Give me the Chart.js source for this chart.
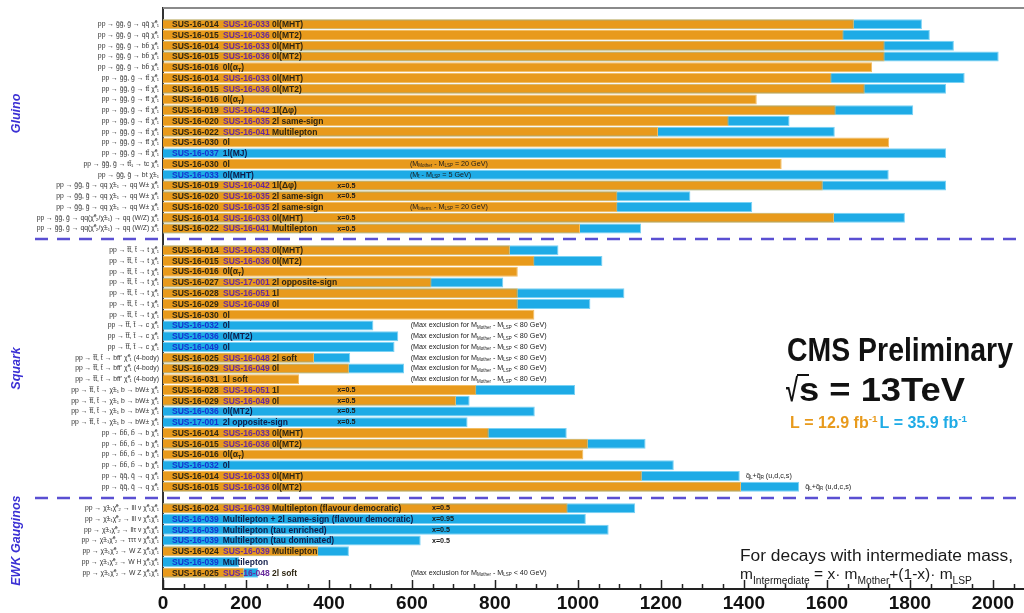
<!DOCTYPE html>
<html>
<head>
<meta charset="utf-8">
<script src="https://cdn.jsdelivr.net/npm/chart.js@4.4.1/dist/chart.umd.min.js"></script>
<style>
html, body { margin: 0; padding: 0; background: #fff; }
#wrap { width: 1024px; height: 613px; }
</style>
</head>
<body>
<div id="wrap"><canvas id="summaryChart" width="1024" height="613"></canvas></div>
<script>
// ---- data (mass limits in GeV) ----
const gluinoDecays = [
    'pp → g̃g̃, g̃ → qq̄ χ̃⁰₁', 'pp → g̃g̃, g̃ → qq̄ χ̃⁰₁',
    'pp → g̃g̃, g̃ → bb̄ χ̃⁰₁', 'pp → g̃g̃, g̃ → bb̄ χ̃⁰₁', 'pp → g̃g̃, g̃ → bb̄ χ̃⁰₁',
    'pp → g̃g̃, g̃ → tt̄ χ̃⁰₁', 'pp → g̃g̃, g̃ → tt̄ χ̃⁰₁', 'pp → g̃g̃, g̃ → tt̄ χ̃⁰₁',
    'pp → g̃g̃, g̃ → tt̄ χ̃⁰₁', 'pp → g̃g̃, g̃ → tt̄ χ̃⁰₁', 'pp → g̃g̃, g̃ → tt̄ χ̃⁰₁',
    'pp → g̃g̃, g̃ → tt̄ χ̃⁰₁', 'pp → g̃g̃, g̃ → tt̄ χ̃⁰₁',
    'pp → g̃g̃, g̃ → tt̃₁ → tc χ̃⁰₁', 'pp → g̃g̃, g̃ → bt χ̃±₁',
    'pp → g̃g̃, g̃ → qq χ̃±₁ → qq W± χ̃⁰₁', 'pp → g̃g̃, g̃ → qq χ̃±₁ → qq W± χ̃⁰₁',
    'pp → g̃g̃, g̃ → qq χ̃±₁ → qq W± χ̃⁰₁',
    'pp → g̃g̃, g̃ → qq(χ̃⁰₂/χ̃±₁) → qq (W/Z) χ̃⁰₁', 'pp → g̃g̃, g̃ → qq(χ̃⁰₂/χ̃±₁) → qq (W/Z) χ̃⁰₁'
];
const gluinoLow = [1665, 1640, 1739, 1739, 1709, 1611, 1691, 1431, 1621, 1363, 1193, 1750, null, 1491, null, 1590, 1095, 1095, 1617, 1005];
const gluinoHigh = [1829, 1848, 1906, 2014, null, 1932, 1887, null, 1808, 1510, 1619, null, 1887, null, 1749, 1887, 1271, 1420, 1788, 1152];
const gluinoRefs = [
    ['SUS-16-014', 'SUS-16-033', '0l(MHT)'], ['SUS-16-015', 'SUS-16-036', '0l(MT2)'],
    ['SUS-16-014', 'SUS-16-033', '0l(MHT)'], ['SUS-16-015', 'SUS-16-036', '0l(MT2)'],
    ['SUS-16-016', '', '0l(α_{T})'],
    ['SUS-16-014', 'SUS-16-033', '0l(MHT)'], ['SUS-16-015', 'SUS-16-036', '0l(MT2)'],
    ['SUS-16-016', '', '0l(α_{T})'], ['SUS-16-019', 'SUS-16-042', '1l(Δφ)'],
    ['SUS-16-020', 'SUS-16-035', '2l same-sign'], ['SUS-16-022', 'SUS-16-041', 'Multilepton'],
    ['SUS-16-030', '', '0l'], ['SUS-16-037', '', '1l(MJ)'],
    ['SUS-16-030', '', '0l'], ['SUS-16-033', '', '0l(MHT)'],
    ['SUS-16-019', 'SUS-16-042', '1l(Δφ)'], ['SUS-16-020', 'SUS-16-035', '2l same-sign'],
    ['SUS-16-020', 'SUS-16-035', '2l same-sign'], ['SUS-16-014', 'SUS-16-033', '0l(MHT)'],
    ['SUS-16-022', 'SUS-16-041', 'Multilepton']
];

const squarkDecays = [
    'pp → t̃t̃, t̃ → t χ̃⁰₁', 'pp → t̃t̃, t̃ → t χ̃⁰₁', 'pp → t̃t̃, t̃ → t χ̃⁰₁', 'pp → t̃t̃, t̃ → t χ̃⁰₁',
    'pp → t̃t̃, t̃ → t χ̃⁰₁', 'pp → t̃t̃, t̃ → t χ̃⁰₁', 'pp → t̃t̃, t̃ → t χ̃⁰₁',
    'pp → t̃t̃, t̃ → c χ̃⁰₁', 'pp → t̃t̃, t̃ → c χ̃⁰₁', 'pp → t̃t̃, t̃ → c χ̃⁰₁',
    'pp → t̃t̃, t̃ → bff\' χ̃⁰₁ (4-body)', 'pp → t̃t̃, t̃ → bff\' χ̃⁰₁ (4-body)', 'pp → t̃t̃, t̃ → bff\' χ̃⁰₁ (4-body)',
    'pp → t̃t̃, t̃ → χ̃±₁ b → bW± χ̃⁰₁', 'pp → t̃t̃, t̃ → χ̃±₁ b → bW± χ̃⁰₁',
    'pp → t̃t̃, t̃ → χ̃±₁ b → bW± χ̃⁰₁', 'pp → t̃t̃, t̃ → χ̃±₁ b → bW± χ̃⁰₁',
    'pp → b̃b̃, b̃ → b χ̃⁰₁', 'pp → b̃b̃, b̃ → b χ̃⁰₁', 'pp → b̃b̃, b̃ → b χ̃⁰₁', 'pp → b̃b̃, b̃ → b χ̃⁰₁',
    'pp → q̃q̃, q̃ → q χ̃⁰₁', 'pp → q̃q̃, q̃ → q χ̃⁰₁'
];
const squarkLow = [836, 895, 855, 647, 855, 855, 895, null, null, null, 364, 448, 328, 755, 706, null, null, 785, 1024, 1013, null, 1154, 1393];
const squarkHigh = [953, 1059, null, 820, 1112, 1030, null, 507, 567, 558, 451, 581, null, 993, 739, 896, 734, 973, 1163, null, 1231, 1390, 1533];
const squarkRefs = [
    ['SUS-16-014', 'SUS-16-033', '0l(MHT)'], ['SUS-16-015', 'SUS-16-036', '0l(MT2)'],
    ['SUS-16-016', '', '0l(α_{T})'], ['SUS-16-027', 'SUS-17-001', '2l opposite-sign'],
    ['SUS-16-028', 'SUS-16-051', '1l'], ['SUS-16-029', 'SUS-16-049', '0l'],
    ['SUS-16-030', '', '0l'], ['SUS-16-032', '', '0l'], ['SUS-16-036', '', '0l(MT2)'],
    ['SUS-16-049', '', '0l'], ['SUS-16-025', 'SUS-16-048', '2l soft'],
    ['SUS-16-029', 'SUS-16-049', '0l'], ['SUS-16-031', '', '1l soft'],
    ['SUS-16-028', 'SUS-16-051', '1l'], ['SUS-16-029', 'SUS-16-049', '0l'],
    ['SUS-16-036', '', '0l(MT2)'], ['SUS-17-001', '', '2l opposite-sign'],
    ['SUS-16-014', 'SUS-16-033', '0l(MHT)'], ['SUS-16-015', 'SUS-16-036', '0l(MT2)'],
    ['SUS-16-016', '', '0l(α_{T})'], ['SUS-16-032', '', '0l'],
    ['SUS-16-014', 'SUS-16-033', '0l(MHT)'], ['SUS-16-015', 'SUS-16-036', '0l(MT2)']
];

const ewkDecays = [
    'pp → χ̃±₁χ̃⁰₂ → lll ν χ̃⁰₁χ̃⁰₁', 'pp → χ̃±₁χ̃⁰₂ → lll ν χ̃⁰₁χ̃⁰₁', 'pp → χ̃±₁χ̃⁰₂ → llτ ν χ̃⁰₁χ̃⁰₁',
    'pp → χ̃±₁χ̃⁰₂ → τττ ν χ̃⁰₁χ̃⁰₁', 'pp → χ̃±₁χ̃⁰₂ → W Z χ̃⁰₁χ̃⁰₁', 'pp → χ̃±₁χ̃⁰₂ → W H χ̃⁰₁χ̃⁰₁',
    'pp → χ̃±₁χ̃⁰₂ → W Z χ̃⁰₁χ̃⁰₁'
];
const ewkLow = [975, null, null, null, 374, null, 195];
const ewkHigh = [1138, 1019, 1074, 621, 448, 183, 229];
const ewkRefs = [
    ['SUS-16-024', 'SUS-16-039', 'Multilepton (flavour democratic)'],
    ['SUS-16-039', '', 'Multilepton + 2l same-sign (flavour democratic)'],
    ['SUS-16-039', '', 'Multilepton (tau enriched)'],
    ['SUS-16-039', '', 'Multilepton (tau dominated)'],
    ['SUS-16-024', 'SUS-16-039', 'Multilepton'],
    ['SUS-16-039', '', 'Multilepton'],
    ['SUS-16-025', 'SUS-16-048', '2l soft']
];

const sectionNames = ['Gluino', 'Squark', 'EWK Gauginos'];
const xTickValues = [0, 200, 400, 600, 800, 1000, 1200, 1400, 1600, 1800, 2000];

// annotations written next to rows: [section, row in section, text, x value]
const notes = [
    [0, 13, '(M_{Mother} - M_{LSP} = 20 GeV)', 595],
    [0, 14, '(M_{t̃} - M_{LSP} = 5 GeV)', 595],
    [0, 15, 'x=0.5', 420], [0, 16, 'x=0.5', 420],
    [0, 17, '(M_{Interm.} - M_{LSP} = 20 GeV)', 595],
    [0, 18, 'x=0.5', 420], [0, 19, 'x=0.5', 420],
    [1, 7, '(Max exclusion for M_{Mother} - M_{LSP} < 80 GeV)', 597],
    [1, 8, '(Max exclusion for M_{Mother} - M_{LSP} < 80 GeV)', 597],
    [1, 9, '(Max exclusion for M_{Mother} - M_{LSP} < 80 GeV)', 597],
    [1, 10, '(Max exclusion for M_{Mother} - M_{LSP} < 80 GeV)', 597],
    [1, 11, '(Max exclusion for M_{Mother} - M_{LSP} < 80 GeV)', 597],
    [1, 12, '(Max exclusion for M_{Mother} - M_{LSP} < 80 GeV)', 597],
    [1, 13, 'x=0.5', 420], [1, 14, 'x=0.5', 420], [1, 15, 'x=0.5', 420], [1, 16, 'x=0.5', 420],
    [1, 21, 'q̃_{L}+q̃_{R} (u,d,c,s)', 1405],
    [1, 22, 'q̃_{L}+q̃_{R} (u,d,c,s)', 1548],
    [2, 0, 'x=0.5', 648], [2, 1, 'x=0.95', 648], [2, 2, 'x=0.5', 648], [2, 3, 'x=0.5', 648],
    [2, 6, '(Max exclusion for M_{Mother} - M_{LSP} < 40 GeV)', 597]
];

// ---- build the category rows (empty rows at the top, between sections and at the bottom) ----
const sections = [
    { decays: gluinoDecays, low: gluinoLow, high: gluinoHigh, refs: gluinoRefs },
    { decays: squarkDecays, low: squarkLow, high: squarkHigh, refs: squarkRefs },
    { decays: ewkDecays, low: ewkLow, high: ewkHigh, refs: ewkRefs }
];
const labels = [''];
const lowData = [null];
const highData = [null];
const rowRefs = [null];
const separatorRows = [];
const sectionStart = [];
sections.forEach((s, k) => {
    if (k > 0) {
        separatorRows.push(labels.length);
        labels.push(''); lowData.push(null); highData.push(null); rowRefs.push(null);
    }
    sectionStart.push(labels.length);
    s.decays.forEach((d, i) => {
        labels.push(d);
        lowData.push(s.low[i]);
        highData.push(s.high[i]);
        rowRefs.push(s.refs[i]);
    });
});
labels.push(''); lowData.push(null); highData.push(null); rowRefs.push(null);

const ORANGE = '#e89a1c';
const BLUE = '#1eabe6';
const FONT = '"Liberation Sans", Arial, Helvetica, sans-serif';

// draws text with _{sub} and ^{sup} parts, returns end x
function drawRich(ctx, str, x, y, size, weight, color, subScale) {
    const parts = str.split(/([_^]\{[^}]*\})/);
    const k = subScale || 0.62;
    let cx = x;
    parts.forEach(p => {
        if (!p) return;
        let s = size, dy = 0, t = p;
        if (p.startsWith('_{')) { s = size * k; dy = size * 0.3; t = p.slice(2, -1); }
        else if (p.startsWith('^{')) { s = size * k; dy = -size * 0.4; t = p.slice(2, -1); }
        ctx.font = `${weight} ${s}px ${FONT}`;
        ctx.fillStyle = color;
        ctx.fillText(t, cx, y + dy);
        cx += ctx.measureText(t).width;
    });
    return cx;
}

function drawFit(ctx, text, x, y, font, width, color) {
    ctx.save();
    ctx.font = font;
    ctx.fillStyle = color;
    const w = ctx.measureText(text).width;
    ctx.translate(x, y);
    ctx.scale(width / w, 1);
    ctx.fillText(text, 0, 0);
    ctx.restore();
}

const overlayPlugin = {
    id: 'overlay',
    afterDatasetsDraw(chart) {
        const ctx = chart.ctx;
        const xs = chart.scales.x;
        const ys = chart.scales.y;
        const area = chart.chartArea;
        ctx.save();
        ctx.textBaseline = 'middle';
        ctx.textAlign = 'left';

        // analysis names inside the bars
        rowRefs.forEach((r, i) => {
            if (!r) return;
            const y = ys.getPixelForValue(i) + 0.5;
            const x0 = xs.getPixelForValue(0) + 9;
            const blueOnly = lowData[i] === null;
            ctx.font = `bold 8.5px ${FONT}`;
            ctx.fillStyle = blueOnly ? '#1434d2' : '#2e2612';
            ctx.fillText(r[0], x0, y);
            let xd;
            if (r[1]) {
                ctx.fillStyle = '#67299c';
                ctx.fillText(r[1], x0 + 51, y);
                xd = x0 + 100;
            } else {
                xd = x0 + ctx.measureText(r[0]).width + 4;
            }
            drawRich(ctx, r[2], xd, y, 8.5, 'bold', blueOnly ? '#101c4a' : '#2e2612');
        });

        // notes next to the bars
        notes.forEach(n => {
            const row = sectionStart[n[0]] + n[1];
            const y = ys.getPixelForValue(row);
            const x = xs.getPixelForValue(n[3]);
            const bold = n[2].startsWith('x=') ? 'bold' : 'normal';
            drawRich(ctx, n[2], x, y, 7.2, bold, '#1a1a1a');
        });

        // dashed section separators
        ctx.strokeStyle = '#5a4fd2';
        ctx.lineWidth = 2.5;
        ctx.setLineDash([13, 9]);
        separatorRows.forEach(r => {
            const y = Math.round(ys.getPixelForValue(r));
            ctx.beginPath();
            ctx.moveTo(35, y);
            ctx.lineTo(chart.width, y);
            ctx.stroke();
        });
        ctx.setLineDash([]);

        // top frame line
        ctx.strokeStyle = '#8a8a8a';
        ctx.lineWidth = 2;
        ctx.beginPath();
        ctx.moveTo(area.left, area.top);
        ctx.lineTo(area.right, area.top);
        ctx.stroke();

        // tick marks pointing into the plot
        ctx.strokeStyle = '#222';
        ctx.lineWidth = 1.5;
        for (let v = 0; v <= xs.max; v += 50) {
            const x = Math.round(xs.getPixelForValue(v)) + 0.5;
            const len = v % 200 === 0 ? 9 : 5;
            ctx.beginPath();
            ctx.moveTo(x, area.bottom);
            ctx.lineTo(x, area.bottom - len);
            ctx.stroke();
        }

        // section titles
        const titleRows = [sectionStart[0] + 8.3, sectionStart[1] + 11, sectionStart[2] + 3];
        ctx.fillStyle = '#3b30d4';
        ctx.font = `italic bold 12.5px ${FONT}`;
        ctx.textAlign = 'center';
        sectionNames.forEach((name, k) => {
            ctx.save();
            ctx.translate(17, ys.getPixelForValue(titleRows[k]));
            ctx.rotate(-Math.PI / 2);
            ctx.fillText(name, 0, 0);
            ctx.restore();
        });
        ctx.textAlign = 'left';

        // CMS label block
        ctx.textBaseline = 'alphabetic';
        drawFit(ctx, 'CMS Preliminary', 787, 361, `bold 34px ${FONT}`, 226, '#111');
        drawFit(ctx, '√', 786, 401, `bold 32px ${FONT}`, 12, '#111');
        ctx.fillStyle = '#111';
        ctx.fillRect(797, 374, 12, 2);
        drawFit(ctx, 's = 13TeV', 799, 401, `bold 33px ${FONT}`, 166, '#111');
        let xe = drawRich(ctx, 'L = 12.9 fb^{-1}', 790, 428, 16, 'bold', ORANGE);
        drawRich(ctx, 'L = 35.9 fb^{-1}', xe + 2, 428, 16, 'bold', BLUE);
        drawFit(ctx, 'For decays with intermediate mass,', 740, 561, `16px ${FONT}`, 273, '#1a1a1a');
        drawRich(ctx, 'm_{Intermediate} = x· m_{Mother}+(1-x)· m_{LSP}', 740, 579, 15.5, 'normal', '#1a1a1a', 0.66);
        ctx.restore();
    }
};

const chart = new Chart(document.getElementById('summaryChart'), {
    type: 'bar',
    data: {
        labels: labels,
        datasets: [{
            label: 'L = 12.9 fb-1',
            data: lowData,
            backgroundColor: ORANGE,
            borderColor: '#f2bd62',
            borderWidth: 1,
            grouped: false,
            barPercentage: 0.93,
            categoryPercentage: 1
        }, {
            label: 'L = 35.9 fb-1',
            data: highData,
            backgroundColor: BLUE,
            borderColor: '#7ad2f4',
            borderWidth: 1,
            grouped: false,
            barPercentage: 0.93,
            categoryPercentage: 1
        }]
    },
    options: {
        indexAxis: 'y',
        responsive: false,
        animation: false,
        layout: { padding: { top: 3, right: 0, left: 0, bottom: 0 } },
        plugins: {
            legend: { display: false },
            tooltip: { enabled: false }
        },
        scales: {
            x: {
                min: 0,
                max: 2075,
                afterBuildTicks: scale => {
                    scale.ticks = xTickValues.map(v => ({ value: v }));
                },
                ticks: {
                    autoSkip: false,
                    maxRotation: 0,
                    padding: 3,
                    color: '#111',
                    font: { family: FONT, size: 19, weight: 'bold' },
                    callback: value => String(value)
                },
                grid: { display: false, drawTicks: false },
                border: { display: true, color: '#222', width: 2 },
                afterFit: scale => { scale.height = 24; }
            },
            y: {
                ticks: {
                    autoSkip: false,
                    padding: 4,
                    color: '#333',
                    font: { family: FONT, size: 6.8 }
                },
                grid: { display: false, drawTicks: false },
                border: { display: true, color: '#333', width: 2 },
                afterFit: scale => { scale.width = 163; }
            }
        }
    },
    plugins: [overlayPlugin]
});
</script>
</body>
</html>
